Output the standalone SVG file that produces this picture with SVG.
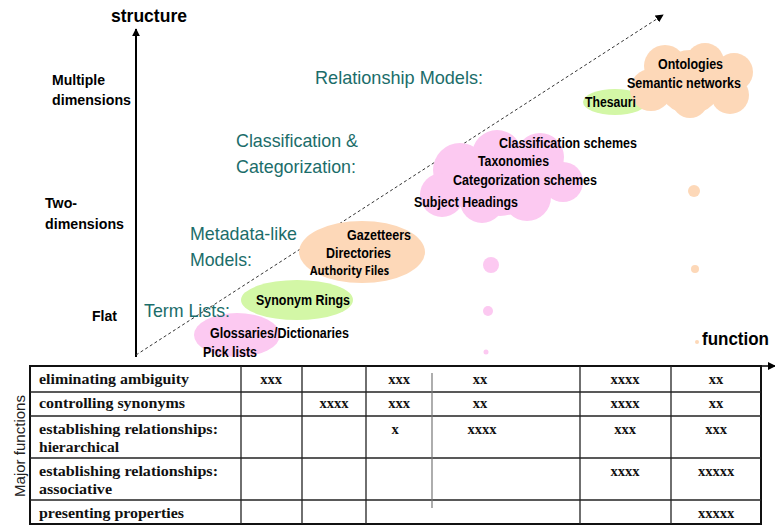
<svg xmlns="http://www.w3.org/2000/svg" width="775" height="527" viewBox="0 0 775 527">
<style>
.lbl{font-family:"Liberation Sans",Arial,sans-serif;font-weight:bold;fill:#000}
.teal{font-family:"Liberation Sans",Arial,sans-serif;fill:#1b6d6a;font-size:18.5px}
.tbl{font-family:"Liberation Serif","Times New Roman",serif;font-weight:bold;font-size:14.5px;fill:#111}
.xm{font-family:"Liberation Serif","Times New Roman",serif;font-weight:bold;font-size:14.5px;fill:#111;text-anchor:middle}
.pink{fill:#fcc9f1}
.green{fill:#d3f7a6}
.orange{fill:#fdd8b8}
.grid{stroke:#222;stroke-width:1.3;fill:none}
</style>
<defs>
<marker id="ah" viewBox="0 0 10 10" refX="9" refY="5" markerWidth="8" markerHeight="8" markerUnits="userSpaceOnUse" orient="auto">
<path d="M0,0 L10,5 L0,10 z" fill="#000"/>
</marker>
</defs>

<g id="connectors">
<line x1="136" y1="357" x2="136" y2="29" stroke="#000" stroke-width="2" marker-end="url(#ah)"/>
<line x1="136" y1="355" x2="663" y2="15" stroke="#333" stroke-width="1" stroke-dasharray="3,2.5" marker-end="url(#ah)"/>
<line x1="761" y1="366" x2="775" y2="366" stroke="#000" stroke-width="1.5" marker-end="url(#ah)"/>
</g>

<g id="axis-labels">
<text class="lbl" x="111" y="22" font-size="19" textLength="76" lengthAdjust="spacingAndGlyphs">structure</text>
<text class="lbl" x="52" y="85" font-size="15" textLength="53" lengthAdjust="spacingAndGlyphs">Multiple</text>
<text class="lbl" x="52" y="105" font-size="15" textLength="79" lengthAdjust="spacingAndGlyphs">dimensions</text>
<text class="lbl" x="45" y="208" font-size="15" textLength="32" lengthAdjust="spacingAndGlyphs">Two-</text>
<text class="lbl" x="45" y="229" font-size="15" textLength="79" lengthAdjust="spacingAndGlyphs">dimensions</text>
<text class="lbl" x="92" y="321" font-size="15" textLength="25" lengthAdjust="spacingAndGlyphs">Flat</text>
<text class="lbl" x="702" y="345" font-size="18" textLength="67" lengthAdjust="spacingAndGlyphs">function</text>
</g>

<g id="category-labels">
<text class="teal" x="315" y="84" textLength="168" lengthAdjust="spacingAndGlyphs">Relationship Models:</text>
<text class="teal" x="236" y="147" textLength="122" lengthAdjust="spacingAndGlyphs">Classification &amp;</text>
<text class="teal" x="236" y="173" textLength="120" lengthAdjust="spacingAndGlyphs">Categorization:</text>
<text class="teal" x="190" y="240" textLength="107" lengthAdjust="spacingAndGlyphs">Metadata-like</text>
<text class="teal" x="190" y="266" textLength="62" lengthAdjust="spacingAndGlyphs">Models:</text>
</g>

<g id="node-glossaries">
<ellipse class="pink" cx="237" cy="335" rx="43" ry="22"/>
<text class="lbl" x="210" y="338" font-size="14" textLength="139" lengthAdjust="spacingAndGlyphs">Glossaries/Dictionaries</text>
<text class="lbl" x="203" y="357" font-size="14" textLength="54" lengthAdjust="spacingAndGlyphs">Pick lists</text>
</g>
<text class="teal" x="144" y="317" textLength="86" lengthAdjust="spacingAndGlyphs">Term Lists:</text>

<g id="node-synonym-rings">
<ellipse class="green" cx="297" cy="300" rx="56" ry="20"/>
<text class="lbl" x="256" y="305" font-size="14" textLength="94" lengthAdjust="spacingAndGlyphs">Synonym Rings</text>
</g>

<g id="node-gazetteers">
<ellipse class="orange" cx="362" cy="252" rx="63" ry="31"/>
<text class="lbl" x="347" y="240" font-size="14" textLength="64" lengthAdjust="spacingAndGlyphs">Gazetteers</text>
<text class="lbl" x="326" y="258" font-size="14" textLength="65" lengthAdjust="spacingAndGlyphs">Directories</text>
<text class="lbl" x="310" y="275" font-size="12" textLength="79" lengthAdjust="spacingAndGlyphs" style="font-family:'Open Sans','Liberation Sans',sans-serif">Authority Files</text>
</g>

<g id="node-classification">
<g class="pink">
<circle cx="500" cy="180" r="36"/>
<circle cx="460" cy="170" r="27"/>
<circle cx="497" cy="155" r="25"/>
<circle cx="540" cy="157" r="24"/>
<circle cx="563" cy="182" r="20"/>
<circle cx="442" cy="195" r="22"/>
<circle cx="482" cy="201" r="22"/>
<circle cx="527" cy="197" r="24"/>
</g>
<text class="lbl" x="499" y="148" font-size="14" textLength="138" lengthAdjust="spacingAndGlyphs">Classification schemes</text>
<text class="lbl" x="478" y="166" font-size="14" textLength="71" lengthAdjust="spacingAndGlyphs">Taxonomies</text>
<text class="lbl" x="453" y="185" font-size="14" textLength="144" lengthAdjust="spacingAndGlyphs">Categorization schemes</text>
<text class="lbl" x="414" y="207" font-size="14" textLength="104" lengthAdjust="spacingAndGlyphs">Subject Headings</text>
</g>

<g id="node-thesauri-shape">
<ellipse class="green" cx="615" cy="102" rx="32" ry="13"/>
</g>

<g id="node-ontologies">
<g class="orange">
<circle cx="690" cy="82" r="32"/>
<circle cx="665" cy="66" r="21"/>
<circle cx="705" cy="62" r="19"/>
<circle cx="734" cy="72" r="19"/>
<circle cx="651" cy="90" r="21"/>
<circle cx="690" cy="100" r="18"/>
<circle cx="730" cy="95" r="19"/>
</g>
<text class="lbl" x="658" y="69" font-size="14" textLength="65" lengthAdjust="spacingAndGlyphs">Ontologies</text>
<text class="lbl" x="627" y="88" font-size="14" textLength="114" lengthAdjust="spacingAndGlyphs">Semantic networks</text>
</g>

<g id="node-thesauri">
<text class="lbl" x="585" y="107" font-size="14" textLength="51" lengthAdjust="spacingAndGlyphs">Thesauri</text>
</g>

<g id="dots">
<circle class="pink" cx="491" cy="265" r="8"/>
<circle class="pink" cx="488" cy="311" r="5"/>
<circle class="pink" cx="486" cy="352" r="2.5"/>
<circle class="orange" cx="694" cy="191" r="6"/>
<circle class="orange" cx="695" cy="269" r="4"/>
<circle class="orange" cx="697" cy="342" r="2"/>
</g>

<g id="table">
<rect x="30" y="366" width="731" height="158" fill="#fff" stroke="#111" stroke-width="2"/>
<line class="grid" x1="30" y1="392" x2="761" y2="392"/>
<line class="grid" x1="30" y1="416" x2="761" y2="416"/>
<line class="grid" x1="30" y1="458" x2="761" y2="458"/>
<line class="grid" x1="30" y1="500" x2="761" y2="500"/>
<line class="grid" x1="241" y1="366" x2="241" y2="524"/>
<line class="grid" x1="302" y1="366" x2="302" y2="524"/>
<line class="grid" x1="366" y1="366" x2="366" y2="524"/>
<line x1="432" y1="373" x2="432" y2="508" stroke="#777" stroke-width="1.2"/>
<line class="grid" x1="580" y1="366" x2="580" y2="524"/>
<line class="grid" x1="671" y1="366" x2="671" y2="524"/>

<text class="tbl" x="39" y="384" textLength="150" lengthAdjust="spacingAndGlyphs">eliminating ambiguity</text>
<text class="tbl" x="39" y="408" textLength="146" lengthAdjust="spacingAndGlyphs">controlling synonyms</text>
<text class="tbl" x="39" y="434" textLength="179" lengthAdjust="spacingAndGlyphs">establishing relationships:</text>
<text class="tbl" x="39" y="452" textLength="80" lengthAdjust="spacingAndGlyphs">hierarchical</text>
<text class="tbl" x="39" y="476" textLength="179" lengthAdjust="spacingAndGlyphs">establishing relationships:</text>
<text class="tbl" x="39" y="494" textLength="73" lengthAdjust="spacingAndGlyphs">associative</text>
<text class="tbl" x="39" y="518" textLength="145" lengthAdjust="spacingAndGlyphs">presenting properties</text>

<text class="xm" x="271" y="384">xxx</text>
<text class="xm" x="399" y="384">xxx</text>
<text class="xm" x="480" y="384">xx</text>
<text class="xm" x="625" y="384">xxxx</text>
<text class="xm" x="716" y="384">xx</text>

<text class="xm" x="334" y="408">xxxx</text>
<text class="xm" x="399" y="408">xxx</text>
<text class="xm" x="480" y="408">xx</text>
<text class="xm" x="625" y="408">xxxx</text>
<text class="xm" x="716" y="408">xx</text>

<text class="xm" x="395" y="434">x</text>
<text class="xm" x="482" y="434">xxxx</text>
<text class="xm" x="625" y="434">xxx</text>
<text class="xm" x="716" y="434">xxx</text>

<text class="xm" x="625" y="476">xxxx</text>
<text class="xm" x="716" y="476">xxxxx</text>

<text class="xm" x="716" y="518">xxxxx</text>
</g>

<text x="0" y="0" transform="translate(25,446) rotate(-90)" text-anchor="middle" font-family="'Liberation Sans',Arial,sans-serif" font-size="14" fill="#222" textLength="102" lengthAdjust="spacingAndGlyphs">Major functions</text>
</svg>
